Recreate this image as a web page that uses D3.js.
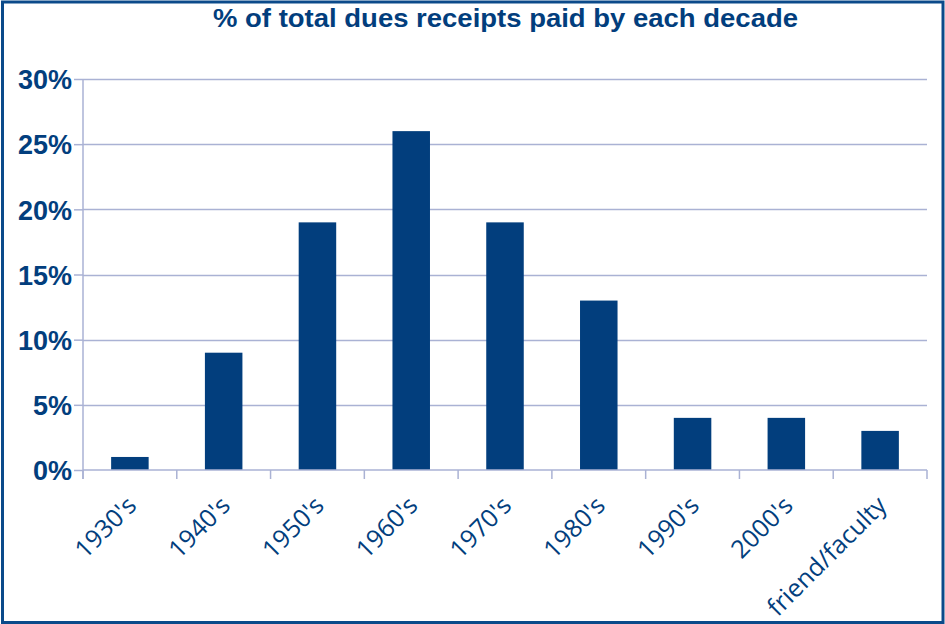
<!DOCTYPE html>
<html>
<head>
<meta charset="utf-8">
<script src="https://cdn.jsdelivr.net/npm/d3@7"></script>
<style>
  body { margin: 0; background: #fff; }
  svg { display: block; }
</style>
</head>
<body>
<svg id="chart" width="945" height="624"></svg>
<script>
// data
const decades = ["1930's", "1940's", "1950's", "1960's", "1970's", "1980's", "1990's", "2000's", "friend/faculty"];
const shares = [1, 9, 19, 26, 19, 13, 4, 4, 3];
const yTicks = [0, 5, 10, 15, 20, 25, 30];

const W = 945, H = 624;
const margin = { top: 79, right: 18, bottom: 154, left: 83 };
const navy = "#023e7d";
const axisCol = "#aab2d4";

const svg = d3.select("#chart");

// outer frame
svg.append("rect")
    .attr("x", 2.5).attr("y", 2)
    .attr("width", W - 4.5).attr("height", H - 3.5)
    .attr("fill", "#fff")
    .attr("stroke", "#0b4a8a")
    .attr("stroke-width", 3);

const x = d3.scaleBand()
    .domain(decades)
    .range([margin.left, W - margin.right])
    .paddingInner(0.6)
    .paddingOuter(0.3);

const y = d3.scaleLinear()
    .domain([0, 30])
    .range([H - margin.bottom, margin.top]);

// gridlines
svg.append("g")
    .selectAll("line")
    .data(yTicks.filter(d => d > 0))
    .enter()
    .append("line")
    .attr("x1", margin.left)
    .attr("x2", W - margin.right)
    .attr("y1", d => Math.round(y(d)) + 0.5)
    .attr("y2", d => Math.round(y(d)) + 0.5)
    .attr("stroke", axisCol)
    .attr("stroke-width", 1.5);

// bars
svg.append("g")
    .selectAll("rect")
    .data(shares)
    .enter()
    .append("rect")
    .attr("x", (d, i) => x(decades[i]))
    .attr("y", d => y(d))
    .attr("width", x.bandwidth())
    .attr("height", d => y(0) - y(d))
    .attr("fill", navy);

// y axis
const yAxis = svg.append("g")
    .attr("transform", `translate(${margin.left},0)`)
    .call(d3.axisLeft(y).tickValues(yTicks).tickSize(9).tickPadding(2)
        .tickFormat(d => d + "%"));
yAxis.select(".domain").remove();
yAxis.append("line")
    .attr("x1", 0).attr("x2", 0)
    .attr("y1", y(30)).attr("y2", y(0) + 9)
    .attr("stroke", axisCol).attr("stroke-width", 1.5);
yAxis.selectAll(".tick line").attr("stroke", axisCol).attr("stroke-width", 1.5);
yAxis.selectAll(".tick text")
    .attr("fill", navy)
    .attr("font-family", "'Liberation Sans', Arial, sans-serif")
    .attr("font-weight", "bold")
    .attr("font-size", "27px")
    .attr("dy", "0.36em");

// x axis: baseline with ticks on band edges
const xg = svg.append("g");
xg.append("line")
    .attr("x1", margin.left).attr("x2", W - margin.right)
    .attr("y1", y(0)).attr("y2", y(0))
    .attr("stroke", axisCol).attr("stroke-width", 1.5);
const edges = decades.map(d => x(d) - x.step() * x.paddingInner() / 2)
    .concat([W - margin.right]);
xg.selectAll("line.tk")
    .data(edges)
    .enter()
    .append("line")
    .attr("class", "tk")
    .attr("x1", d => d).attr("x2", d => d)
    .attr("y1", y(0)).attr("y2", y(0) + 9)
    .attr("stroke", axisCol).attr("stroke-width", 1.5);

xg.selectAll("text")
    .data(decades)
    .enter()
    .append("text")
    .attr("transform", d => `translate(${x(d) + x.bandwidth() / 2 + 8},${y(0) + 37}) rotate(-45)`)
    .attr("text-anchor", "end")
    .attr("fill", navy)
    .attr("font-family", "'Open Sans', sans-serif")
    .attr("font-size", "25px")
    .text(d => d);

// title
svg.append("text")
    .attr("x", 213)
    .attr("y", 27)
    .attr("fill", navy)
    .attr("font-family", "'Liberation Sans Narrow', 'Liberation Sans', Arial, sans-serif")
    .attr("font-weight", "bold")
    .attr("font-size", "26px")
    .attr("textLength", 585)
    .attr("lengthAdjust", "spacingAndGlyphs")
    .text("% of total dues receipts paid by each decade");
</script>
</body>
</html>
